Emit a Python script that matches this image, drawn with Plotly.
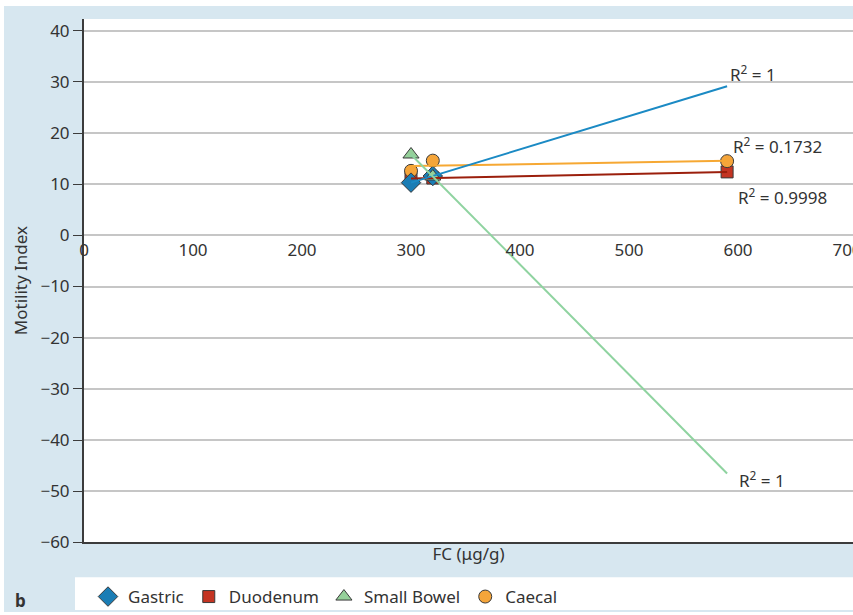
import numpy as np
import plotly.graph_objects as go

# ---- data ----
series_names = ["Gastric", "Duodenum", "Small Bowel", "Caecal"]
gastric_x = [300, 320]
gastric_y = [10.3, 11.6]
duodenum_x = [300, 320, 590]
duodenum_y = [11.1, 11.2, 12.4]
smallbowel_x = [300, 320]
smallbowel_y = [15.8, 11.5]
caecal_x = [300, 320, 590]
caecal_y = [12.6, 14.6, 14.5]
trend_x = [300, 590]
r2_labels = ["R<sup>2</sup> = 1", "R<sup>2</sup> = 0.9998", "R<sup>2</sup> = 1", "R<sup>2</sup> = 0.1732"]
x_ticks = [0, 100, 200, 300, 400, 500, 600, 700]
y_ticks = [-60, -50, -40, -30, -20, -10, 0, 10, 20, 30, 40]

# ---- layout geometry (page pixels) ----
W, H = 853, 615
PL, PR, PT, PB = 84, 853, 19, 545   # plot area in pixels
def fx(xp):
    return xp / W
def fy(yp):
    return 1 - yp / H

X_RANGE = [0, 705.5]
Y_RANGE = [-60, 42.3]

FONT = "Noto Sans"
TXT = "#333333"
FS = 17

styles = {
    "Gastric": dict(symbol="diamond", size=15, fill="#1a7db5", line="#1b8ac4"),
    "Duodenum": dict(symbol="square", size=12, fill="#c43422", line="#9b1f0c"),
    "Small Bowel": dict(symbol="triangle-up", size=14, fill="#95d09a", line="#8fd3a0"),
    "Caecal": dict(symbol="circle", size=13, fill="#f5a53a", line="#f6a833"),
}
data = {
    "Gastric": (gastric_x, gastric_y),
    "Duodenum": (duodenum_x, duodenum_y),
    "Small Bowel": (smallbowel_x, smallbowel_y),
    "Caecal": (caecal_x, caecal_y),
}

fig = go.Figure()

draw_order = ["Duodenum", "Caecal", "Gastric", "Small Bowel"]
for name in draw_order:
    xs, ys = data[name]
    st = styles[name]
    fig.add_trace(go.Scatter(
        x=xs, y=ys, mode="markers", name=name,
        legendrank=series_names.index(name) + 1,
        marker=dict(symbol=st["symbol"], size=st["size"], color=st["fill"],
                    line=dict(color="#3a3a3a", width=1)),
    ))

for name in draw_order:
    xs, ys = data[name]
    st = styles[name]
    k, b = np.polyfit(xs, ys, 1)
    tx = np.array(trend_x, dtype=float)
    fig.add_trace(go.Scatter(
        x=tx, y=k * tx + b, mode="lines", showlegend=False,
        line=dict(color=st["line"], width=2), hoverinfo="skip",
    ))

# dummy trace for the overlay axis carrying the tick labels at y=0
fig.add_trace(go.Scatter(x=[None], y=[None], xaxis="x2", showlegend=False))

# R^2 labels
r2_pos = {
    "Gastric": (590.8, 31.7),
    "Duodenum": (598.2, 7.6),
    "Small Bowel": (599.0, -47.7),
    "Caecal": (593.6, 17.5),
}
for name, lab in zip(series_names, r2_labels):
    xa, ya = r2_pos[name]
    fig.add_annotation(x=xa, y=ya, text=lab, showarrow=False, xanchor="left",
                       yanchor="middle", font=dict(family=FONT, size=FS, color=TXT))

fig.add_annotation(x=fx(20), y=fy(603), xref="paper", yref="paper", text="<b>b</b>",
                   showarrow=False, xanchor="center", yanchor="middle",
                   font=dict(family=FONT, size=FS, color=TXT))

shapes = [
    dict(type="rect", xref="paper", yref="paper", x0=fx(4), x1=1, y0=0, y1=fy(6),
         fillcolor="#d7e7f0", line=dict(width=0), layer="below"),
    dict(type="rect", xref="paper", yref="paper", x0=fx(PL), x1=fx(PR), y0=fy(PB), y1=fy(PT),
         fillcolor="#ffffff", line=dict(width=0), layer="below"),
    dict(type="rect", xref="paper", yref="paper", x0=fx(75), x1=1, y0=fy(613), y1=fy(580),
         fillcolor="#ffffff", line=dict(width=0), layer="below"),
]

y_dom = [fy(PB), fy(PT)]
zero_pos = y_dom[0] + (0 - Y_RANGE[0]) / (Y_RANGE[1] - Y_RANGE[0]) * (y_dom[1] - y_dom[0])

fig.update_layout(
    width=W, height=H,
    margin=dict(l=0, r=0, t=0, b=0, pad=0),
    paper_bgcolor="#ffffff", plot_bgcolor="#ffffff",
    font=dict(family=FONT, size=FS, color=TXT),
    shapes=shapes,
    showlegend=True,
    legend=dict(orientation="h", x=fx(88), y=fy(600), xanchor="left", yanchor="middle",
                bgcolor="rgba(0,0,0,0)", font=dict(family=FONT, size=FS, color=TXT),
                itemwidth=30, tracegroupgap=0, traceorder="normal"),
    xaxis=dict(domain=[fx(PL), fx(PR)], range=X_RANGE, showgrid=False, zeroline=False,
               showline=True, linecolor="#3c3c3c", linewidth=2, showticklabels=False,
               ticks="", automargin=False,
               title=dict(text="FC (μg/g)", standoff=5,
                          font=dict(family=FONT, size=FS, color=TXT)),
               tickvals=x_ticks),
    xaxis2=dict(domain=[fx(PL), fx(PR)], range=X_RANGE, overlaying="x", matches="x",
                anchor="free", position=zero_pos, automargin=False,
                side="bottom", showgrid=False, zeroline=False, showline=False, ticks="",
                tickvals=x_ticks, ticktext=[str(v) for v in x_ticks],
                ticklabelstandoff=3, ticklabeloverflow="allow",
                tickfont=dict(family=FONT, size=FS, color=TXT)),
    yaxis=dict(domain=y_dom, range=Y_RANGE, tickvals=y_ticks, automargin=False,
               ticktext=[(("\u2212" + str(-v)) if v < 0 else str(v)) for v in y_ticks],
               showgrid=True, gridcolor="#c6c6c6", gridwidth=1.5, zeroline=False,
               showline=True, linecolor="#3c3c3c", linewidth=2,
               ticks="outside", ticklen=9, tickcolor="#3c3c3c", tickwidth=1,
               tickfont=dict(family=FONT, size=FS, color=TXT),
               title=dict(text="Motility Index", standoff=8,
                          font=dict(family=FONT, size=FS, color=TXT))),
)

# remove the browser's default 8px page margin so the figure fills the window
fig.write_html("out.html", config={"displayModeBar": False},
               post_script="document.body.style.margin='0px';")
